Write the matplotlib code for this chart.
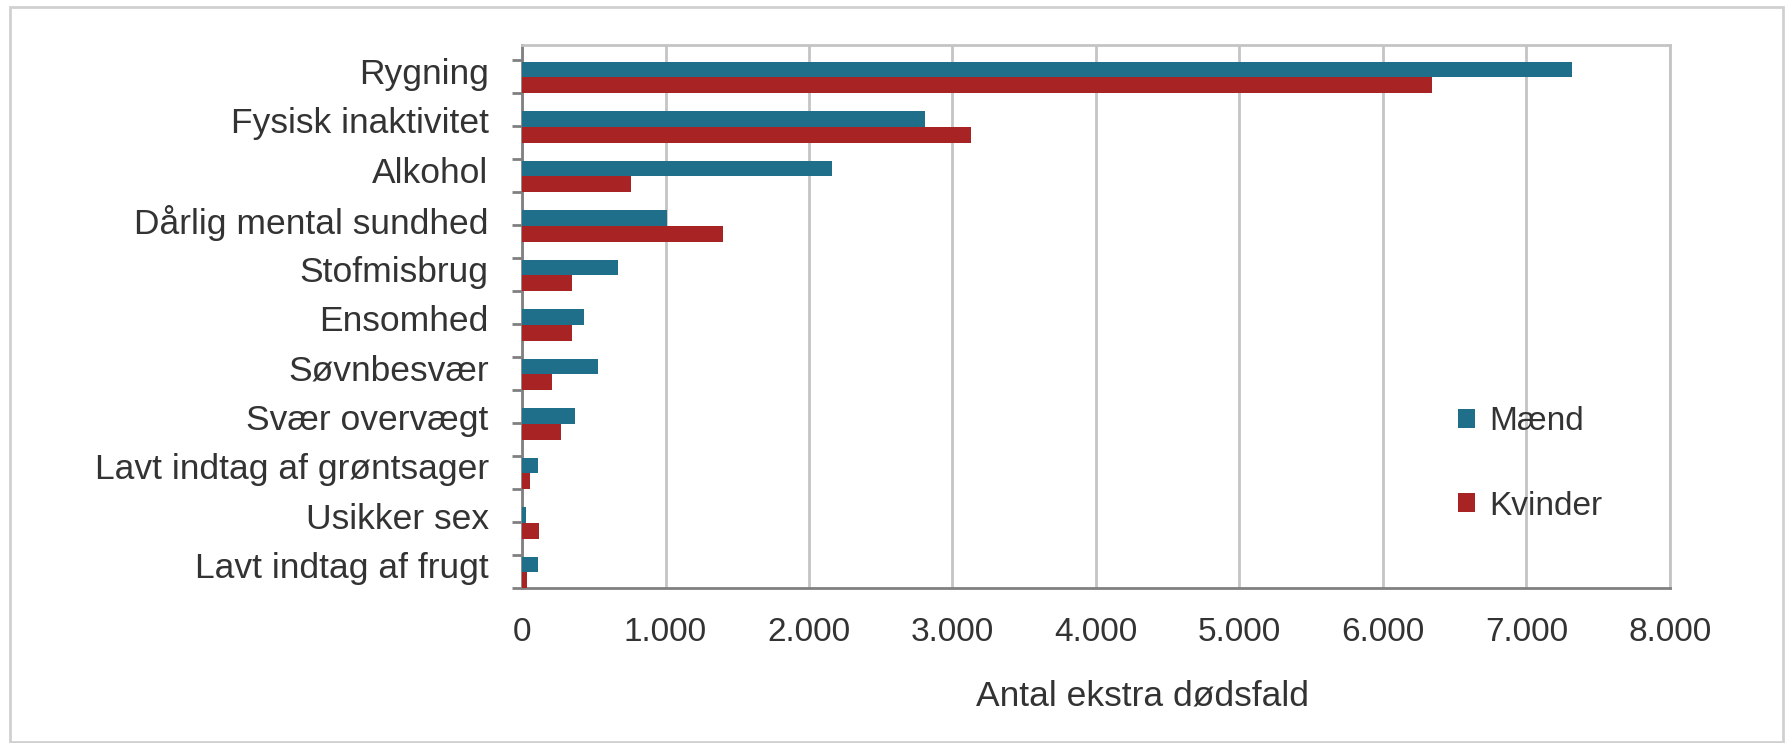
import numpy as np
import matplotlib
matplotlib.use("Agg")
import matplotlib.pyplot as plt
from matplotlib.patches import Rectangle, Patch
from matplotlib.ticker import FixedLocator, FuncFormatter

categories = [
    "Rygning",
    "Fysisk inaktivitet",
    "Alkohol",
    "Dårlig mental sundhed",
    "Stofmisbrug",
    "Ensomhed",
    "Søvnbesvær",
    "Svær overvægt",
    "Lavt indtag af grøntsager",
    "Usikker sex",
    "Lavt indtag af frugt",
]
maend = [7320, 2810, 2160, 1010, 670, 430, 530, 370, 110, 30, 110]
kvinder = [6340, 3130, 760, 1400, 350, 350, 210, 270, 55, 120, 35]
series_names = ["Mænd", "Kvinder"]
xticks = [0, 1000, 2000, 3000, 4000, 5000, 6000, 7000, 8000]

TEAL = "#1f6e8a"
RED = "#a82424"
TXT = "#333333"
GRID = "#c4c4c4"

plt.rcParams["font.family"] = ["Liberation Sans", "DejaVu Sans"]

fig = plt.figure(figsize=(17.87, 7.43), dpi=100)
fig.patch.set_facecolor("white")

# outer frame of the chart
fig.add_artist(Rectangle((10 / 1787, 1 / 743), 1773 / 1787, 735 / 743,
                         transform=fig.transFigure, fill=False,
                         edgecolor="#d0d0d0", linewidth=2))

ax = fig.add_axes([522 / 1787, 1 - 588 / 743, 1148 / 1787, 543 / 743])

n = len(categories)
pos = np.arange(n)[::-1].astype(float)
h = 0.315
ax.barh(pos + h / 2, maend, height=h, color=TEAL, label=series_names[0], zorder=3)
ax.barh(pos - h / 2, kvinder, height=h, color=RED, label=series_names[1], zorder=3)

ax.set_xlim(0, 8000)
ax.set_ylim(-h, n - 1 + 0.656)

ax.xaxis.set_major_locator(FixedLocator(xticks))
ax.xaxis.set_major_formatter(FuncFormatter(lambda v, p: f"{int(v):,}".replace(",", ".")))
ax.grid(axis="x", color=GRID, linewidth=2, zorder=0)
ax.tick_params(axis="x", length=0, labelsize=24, labelcolor=TXT, pad=21)

# category labels
ax.set_yticks(pos + 0.14)
ax.set_yticklabels(categories)
ax.tick_params(axis="y", which="major", length=0, labelsize=25.5, labelcolor=TXT, pad=24)
# small tick marks on the category axis
ax.set_yticks(np.arange(-h, n - 1 + 0.656, 2 / 3), minor=True)
ax.tick_params(axis="y", which="minor", length=7, width=2, color="#808080")

for s in ["top", "right"]:
    ax.spines[s].set_color(GRID)
    ax.spines[s].set_linewidth(2)
for s in ["left", "bottom"]:
    ax.spines[s].set_color("#808080")
    ax.spines[s].set_linewidth(2)

fig.text(1143 / 1787, 1 - 696 / 743, "Antal ekstra dødsfald", ha="center", va="center",
         fontsize=25.5, color=TXT)

handles = [Patch(facecolor=TEAL), Patch(facecolor=RED)]
fig.legend(handles, series_names, loc="center left",
           bbox_to_anchor=(1428 / 1787, 1 - 464 / 743), frameon=False,
           fontsize=24, handlelength=0.5, handleheight=0.5, handletextpad=0.45,
           labelspacing=1.6, labelcolor=TXT)

fig.savefig("out.png", dpi=100, facecolor="white")
